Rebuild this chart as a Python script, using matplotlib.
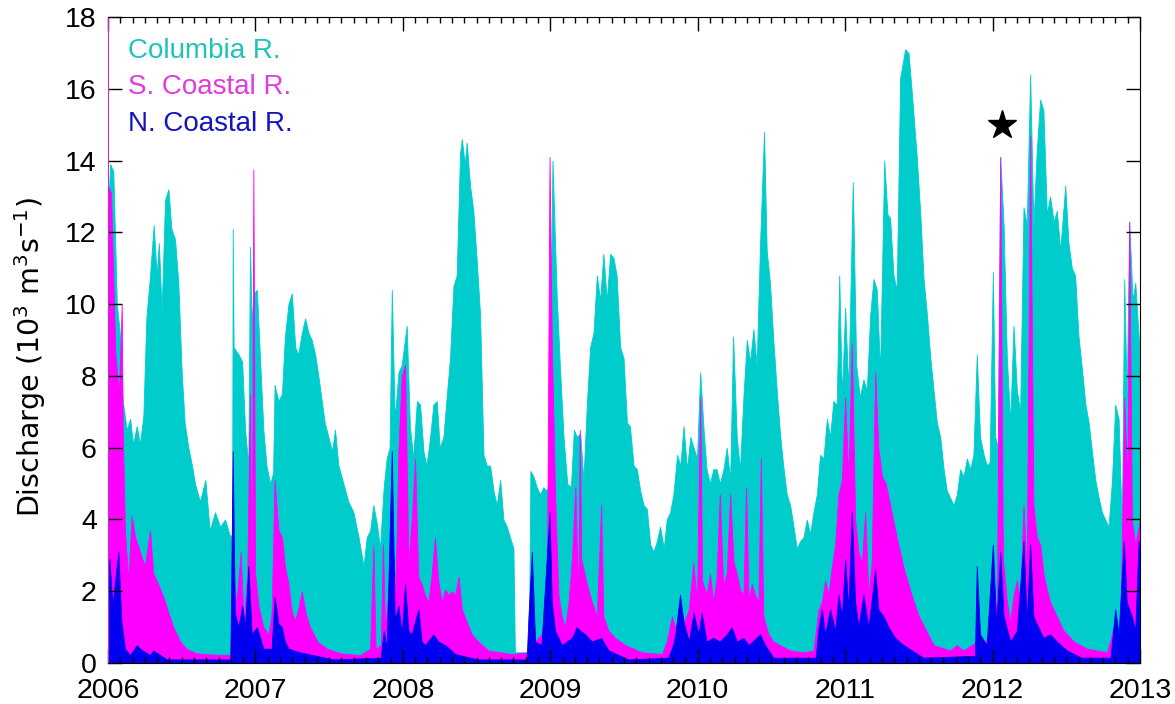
import matplotlib
matplotlib.use('Agg')
import matplotlib.pyplot as plt
from matplotlib.ticker import MultipleLocator

plt.rcParams['font.family'] = ['Liberation Sans', 'DejaVu Sans']

# daily discharge envelopes (decimal year, 10^3 m^3/s)
columbia_t = [2006.000, 2006.015, 2006.036, 2006.060, 2006.080, 2006.100, 2006.127, 2006.150, 2006.170, 2006.195,
              2006.217, 2006.240, 2006.260, 2006.285, 2006.310, 2006.330, 2006.345, 2006.364, 2006.387, 2006.410,
              2006.430, 2006.455, 2006.477, 2006.500, 2006.520, 2006.545, 2006.570, 2006.590, 2006.624, 2006.660,
              2006.690, 2006.726, 2006.760, 2006.794, 2006.830, 2006.842, 2006.846, 2006.852, 2006.885, 2006.910,
              2006.930, 2006.952, 2006.963, 2006.975, 2006.990, 2007.010, 2007.030, 2007.054, 2007.075, 2007.100,
              2007.120, 2007.130, 2007.156, 2007.180, 2007.200, 2007.224, 2007.247, 2007.270, 2007.290, 2007.315,
              2007.337, 2007.360, 2007.382, 2007.405, 2007.427, 2007.450, 2007.470, 2007.495, 2007.520, 2007.540,
              2007.563, 2007.597, 2007.630, 2007.665, 2007.700, 2007.733, 2007.755, 2007.778, 2007.800, 2007.823,
              2007.845, 2007.870, 2007.890, 2007.910, 2007.925, 2007.945, 2007.970, 2007.992, 2008.026, 2008.048,
              2008.070, 2008.095, 2008.117, 2008.140, 2008.160, 2008.185, 2008.207, 2008.230, 2008.250, 2008.275,
              2008.297, 2008.320, 2008.343, 2008.365, 2008.388, 2008.400, 2008.420, 2008.433, 2008.456, 2008.478,
              2008.500, 2008.524, 2008.547, 2008.570, 2008.592, 2008.615, 2008.637, 2008.660, 2008.682, 2008.705,
              2008.727, 2008.750, 2008.760, 2008.855, 2008.865, 2008.886, 2008.908, 2008.930, 2008.953, 2008.976,
              2008.990, 2009.015, 2009.044, 2009.065, 2009.090, 2009.115, 2009.140, 2009.160, 2009.180, 2009.203,
              2009.225, 2009.248, 2009.270, 2009.293, 2009.316, 2009.338, 2009.360, 2009.383, 2009.406, 2009.428,
              2009.450, 2009.474, 2009.497, 2009.520, 2009.540, 2009.565, 2009.587, 2009.610, 2009.633, 2009.655,
              2009.678, 2009.700, 2009.723, 2009.745, 2009.770, 2009.790, 2009.813, 2009.835, 2009.860, 2009.882,
              2009.904, 2009.927, 2009.950, 2009.972, 2009.995, 2010.017, 2010.040, 2010.060, 2010.083, 2010.106,
              2010.128, 2010.150, 2010.175, 2010.197, 2010.220, 2010.240, 2010.265, 2010.287, 2010.310, 2010.333,
              2010.355, 2010.378, 2010.400, 2010.423, 2010.450, 2010.468, 2010.490, 2010.513, 2010.536, 2010.558,
              2010.580, 2010.604, 2010.627, 2010.650, 2010.672, 2010.695, 2010.717, 2010.740, 2010.762, 2010.785,
              2010.808, 2010.830, 2010.853, 2010.876, 2010.898, 2010.920, 2010.943, 2010.960, 2010.978, 2011.000,
              2011.022, 2011.052, 2011.075, 2011.100, 2011.124, 2011.147, 2011.170, 2011.192, 2011.215, 2011.237,
              2011.265, 2011.287, 2011.305, 2011.328, 2011.350, 2011.373, 2011.407, 2011.430, 2011.452, 2011.486,
              2011.510, 2011.532, 2011.555, 2011.578, 2011.600, 2011.622, 2011.645, 2011.668, 2011.690, 2011.713,
              2011.735, 2011.758, 2011.780, 2011.803, 2011.826, 2011.848, 2011.870, 2011.893, 2011.915, 2011.940,
              2011.962, 2011.980, 2012.002, 2012.018, 2012.035, 2012.052, 2012.075, 2012.097, 2012.120, 2012.142,
              2012.165, 2012.187, 2012.210, 2012.232, 2012.255, 2012.277, 2012.300, 2012.323, 2012.345, 2012.368,
              2012.390, 2012.414, 2012.436, 2012.459, 2012.493, 2012.515, 2012.538, 2012.560, 2012.583, 2012.606,
              2012.630, 2012.652, 2012.674, 2012.697, 2012.720, 2012.742, 2012.764, 2012.787, 2012.810, 2012.832,
              2012.855, 2012.877, 2012.893, 2012.910, 2012.927, 2012.950, 2012.968, 2013.000]
columbia_v = [12.5, 13.9, 13.7, 10.0, 9.2, 7.3, 6.5, 6.8, 6.1, 6.6,
              6.1, 6.9, 9.6, 10.8, 12.2, 10.8, 11.7, 9.8, 12.9, 13.2,
              12.1, 11.8, 10.6, 8.1, 6.7, 6.0, 5.5, 5.0, 4.5, 5.1,
              3.7, 4.2, 3.8, 4.0, 3.5, 3.6, 12.1, 8.8, 8.6, 8.4,
              6.5, 5.5, 11.6, 9.5, 10.3, 10.4, 8.6, 6.5, 5.5, 5.0,
              5.3, 7.75, 7.3, 7.5, 9.1, 10.0, 10.3, 8.8, 8.6, 9.2,
              9.6, 9.2, 9.0, 8.6, 8.0, 7.3, 6.7, 6.3, 5.9, 6.5,
              5.5, 5.0, 4.5, 4.2, 3.5, 2.7, 3.5, 3.7, 4.4, 3.9,
              3.2, 4.9, 5.7, 6.0, 10.4, 6.8, 8.1, 8.3, 9.4, 6.6,
              5.7, 7.3, 7.2, 5.9, 5.5, 6.3, 7.2, 7.3, 6.0, 6.3,
              7.4, 8.5, 10.5, 10.8, 14.2, 14.6, 13.9, 14.5, 13.3, 12.6,
              11.3, 9.7, 5.8, 5.5, 5.5, 4.8, 4.4, 5.1, 4.0, 3.8,
              3.5, 3.2, 0.3, 0.3, 5.35, 5.2, 4.9, 4.7, 4.9, 4.8,
              5.0, 14.0, 10.2, 8.3, 6.3, 5.0, 4.9, 6.5, 6.3, 6.4,
              5.1, 7.2, 8.8, 9.2, 10.8, 10.1, 11.4, 10.1, 11.4, 11.3,
              10.8, 8.8, 8.5, 6.7, 6.6, 5.5, 5.4, 4.8, 4.4, 4.3,
              3.3, 3.1, 3.4, 3.8, 3.2, 4.0, 4.2, 4.7, 5.8, 5.5,
              6.6, 5.4, 6.3, 6.0, 5.7, 8.1, 6.5, 5.4, 5.0, 5.4,
              5.4, 5.0, 5.4, 6.0, 5.1, 9.1, 6.3, 5.4, 7.4, 9.0,
              8.4, 9.3, 8.3, 11.7, 14.8, 11.5, 10.6, 9.0, 7.6, 6.4,
              5.5, 4.7, 4.4, 3.8, 3.2, 3.4, 3.5, 4.0, 3.6, 4.2,
              4.7, 5.8, 5.7, 6.8, 6.3, 7.3, 7.2, 10.8, 7.4, 9.9,
              7.6, 13.4, 8.3, 7.4, 7.9, 7.6, 9.7, 10.7, 10.4, 8.1,
              14.0, 12.5, 12.4, 10.8, 10.4, 16.3, 17.1, 17.0, 15.9, 14.1,
              12.5, 10.7, 9.7, 8.5, 7.6, 6.7, 6.3, 5.4, 4.8, 4.6,
              4.4, 4.7, 5.4, 5.2, 5.7, 5.4, 5.8, 8.6, 6.3, 5.8,
              5.5, 5.6, 10.9, 6.3, 6.0, 14.1, 12.2, 8.5, 6.7, 9.4,
              7.6, 7.0, 12.7, 12.2, 16.4, 12.2, 14.3, 15.7, 15.4, 12.5,
              13.0, 12.3, 12.6, 11.5, 13.3, 11.7, 11.0, 10.8, 9.1, 8.2,
              7.2, 6.7, 5.9, 5.1, 4.6, 4.2, 4.0, 3.8, 5.1, 7.2,
              6.8, 3.8, 10.7, 7.4, 12.3, 10.1, 10.6, 8.5]

s_coastal_t = [2006.000, 2006.020, 2006.050, 2006.075, 2006.093, 2006.100, 2006.115, 2006.138, 2006.160, 2006.185,
               2006.217, 2006.250, 2006.285, 2006.307, 2006.340, 2006.375, 2006.410, 2006.443, 2006.490, 2006.530,
               2006.600, 2006.700, 2006.830, 2006.846, 2006.870, 2006.900, 2006.920, 2006.945, 2006.963, 2006.975,
               2006.986, 2006.998, 2007.020, 2007.054, 2007.090, 2007.110, 2007.130, 2007.156, 2007.180, 2007.200,
               2007.224, 2007.247, 2007.270, 2007.290, 2007.315, 2007.340, 2007.370, 2007.420, 2007.484, 2007.580,
               2007.710, 2007.778, 2007.800, 2007.815, 2007.850, 2007.865, 2007.880, 2007.930, 2007.950, 2007.970,
               2007.992, 2008.015, 2008.038, 2008.060, 2008.083, 2008.105, 2008.128, 2008.150, 2008.173, 2008.196,
               2008.218, 2008.240, 2008.264, 2008.287, 2008.310, 2008.333, 2008.355, 2008.378, 2008.400, 2008.433,
               2008.467, 2008.512, 2008.580, 2008.740, 2008.860, 2008.875, 2008.897, 2008.940, 2008.976, 2008.995,
               2009.010, 2009.033, 2009.055, 2009.078, 2009.100, 2009.124, 2009.147, 2009.170, 2009.190, 2009.200,
               2009.210, 2009.248, 2009.282, 2009.316, 2009.345, 2009.360, 2009.395, 2009.440, 2009.508, 2009.620,
               2009.757, 2009.790, 2009.825, 2009.860, 2009.895, 2009.940, 2009.970, 2009.995, 2010.017, 2010.030,
               2010.060, 2010.083, 2010.106, 2010.128, 2010.150, 2010.172, 2010.197, 2010.220, 2010.243, 2010.265,
               2010.287, 2010.310, 2010.328, 2010.345, 2010.367, 2010.390, 2010.412, 2010.428, 2010.445, 2010.480,
               2010.513, 2010.558, 2010.627, 2010.717, 2010.785, 2010.820, 2010.842, 2010.864, 2010.887, 2010.910,
               2010.932, 2010.955, 2010.978, 2011.000, 2011.022, 2011.045, 2011.068, 2011.090, 2011.113, 2011.136,
               2011.158, 2011.180, 2011.204, 2011.225, 2011.250, 2011.275, 2011.300, 2011.350, 2011.400, 2011.450,
               2011.500, 2011.550, 2011.600, 2011.713, 2011.757, 2011.803, 2011.893, 2011.940, 2012.002, 2012.030,
               2012.052, 2012.070, 2012.097, 2012.120, 2012.142, 2012.165, 2012.187, 2012.210, 2012.232, 2012.255,
               2012.277, 2012.300, 2012.323, 2012.345, 2012.368, 2012.390, 2012.436, 2012.482, 2012.550, 2012.640,
               2012.776, 2012.798, 2012.820, 2012.866, 2012.893, 2012.915, 2012.927, 2012.945, 2012.968, 2013.000]
s_coastal_v = [13.3, 13.1, 8.6, 7.5, 10.0, 6.5, 3.7, 2.3, 4.1, 3.5,
               3.1, 2.7, 3.7, 2.5, 2.2, 1.85, 1.4, 1.0, 0.6, 0.4,
               0.27, 0.24, 0.22, 2.7, 1.6, 3.1, 1.1, 2.5, 7.5, 1.4,
               13.75, 2.5, 1.6, 1.0, 0.8, 1.4, 5.1, 3.7, 3.5, 2.7,
               2.2, 1.4, 1.2, 1.5, 2.0, 1.4, 1.0, 0.6, 0.4, 0.27,
               0.22, 0.4, 3.3, 0.4, 0.5, 3.3, 0.9, 3.4, 2.0, 5.9,
               8.0, 8.3, 2.8, 4.0, 5.7, 2.4, 2.2, 1.9, 1.7, 2.5,
               3.5, 2.3, 1.7, 2.05, 1.9, 2.0, 1.9, 2.4, 1.5, 1.15,
               0.8, 0.6, 0.35, 0.25, 0.3, 1.15, 0.6, 0.8, 1.15, 14.1,
               9.0, 4.6, 1.9, 1.3, 1.0, 1.7, 2.9, 4.9, 1.7, 6.5,
               2.9, 2.2, 1.7, 1.3, 4.4, 1.3, 0.9, 0.7, 0.5, 0.3,
               0.25, 0.6, 1.3, 0.8, 1.0, 1.5, 2.8, 1.7, 7.4, 2.3,
               1.9, 2.5, 1.7, 2.4, 4.7, 2.2, 2.5, 4.7, 2.8, 2.5,
               2.05, 1.9, 4.9, 1.8, 2.2, 1.9, 1.7, 5.7, 1.3, 0.8,
               0.6, 0.5, 0.35, 0.3, 0.35, 1.5, 1.7, 2.3, 1.9, 2.7,
               3.3, 4.7, 5.1, 7.4, 5.1, 8.9, 4.0, 3.1, 2.8, 4.2,
               1.9, 2.8, 8.1, 6.0, 5.2, 5.0, 4.5, 3.5, 2.6, 1.9,
               1.3, 0.9, 0.5, 0.35, 0.5, 0.35, 0.6, 0.45, 1.15, 1.7,
               14.1, 2.9, 1.7, 1.15, 1.9, 2.3, 1.7, 4.4, 2.5, 14.7,
               4.4, 3.5, 3.3, 2.5, 2.05, 1.7, 1.3, 0.9, 0.6, 0.4,
               0.3, 0.6, 1.0, 0.7, 7.4, 5.0, 12.3, 4.0, 3.3, 4.0]

n_coastal_t = [2006.000, 2006.010, 2006.030, 2006.070, 2006.090, 2006.115, 2006.150, 2006.195, 2006.217, 2006.285,
               2006.307, 2006.400, 2006.830, 2006.846, 2006.860, 2006.885, 2006.910, 2006.930, 2006.952, 2006.975,
               2007.010, 2007.054, 2007.110, 2007.130, 2007.156, 2007.180, 2007.200, 2007.224, 2007.300, 2007.530,
               2007.850, 2007.870, 2007.890, 2007.925, 2007.945, 2007.970, 2007.992, 2008.015, 2008.038, 2008.060,
               2008.105, 2008.128, 2008.150, 2008.207, 2008.240, 2008.287, 2008.355, 2008.510, 2008.840, 2008.852,
               2008.875, 2008.897, 2008.940, 2008.995, 2009.010, 2009.033, 2009.078, 2009.147, 2009.180, 2009.203,
               2009.237, 2009.282, 2009.345, 2009.395, 2009.530, 2009.800, 2009.833, 2009.848, 2009.880, 2009.904,
               2009.940, 2009.972, 2010.005, 2010.027, 2010.060, 2010.106, 2010.150, 2010.197, 2010.230, 2010.265,
               2010.310, 2010.345, 2010.423, 2010.457, 2010.513, 2010.800, 2010.820, 2010.842, 2010.864, 2010.898,
               2010.932, 2010.955, 2010.978, 2011.000, 2011.022, 2011.045, 2011.068, 2011.090, 2011.124, 2011.158,
               2011.204, 2011.225, 2011.260, 2011.294, 2011.339, 2011.396, 2011.530, 2011.880, 2011.893, 2011.915,
               2011.960, 2012.002, 2012.025, 2012.052, 2012.075, 2012.120, 2012.165, 2012.210, 2012.232, 2012.255,
               2012.277, 2012.310, 2012.345, 2012.390, 2012.436, 2012.505, 2012.600, 2012.800, 2012.832, 2012.855,
               2012.890, 2012.910, 2012.945, 2012.968, 2012.990, 2013.000]
n_coastal_v = [2.0, 2.9, 1.6, 3.1, 1.2, 0.4, 0.22, 0.5, 0.4, 0.22,
               0.35, 0.1, 0.1, 5.9, 1.4, 1.0, 1.6, 1.0, 2.7, 0.8,
               1.0, 0.4, 0.4, 1.85, 1.1, 1.0, 0.6, 0.4, 0.3, 0.1,
               0.15, 0.9, 0.4, 5.9, 1.2, 1.6, 0.8, 2.2, 0.9, 0.8,
               1.5, 0.6, 0.5, 0.8, 0.6, 0.5, 0.25, 0.1, 0.1, 1.3,
               3.1, 0.6, 0.5, 4.2, 1.7, 0.9, 0.5, 0.7, 1.0, 0.9,
               0.8, 0.6, 0.7, 0.35, 0.1, 0.15, 0.5, 0.8, 1.9, 1.15,
               0.6, 1.4, 0.8, 1.4, 0.6, 0.7, 0.6, 0.8, 1.0, 0.6,
               0.7, 0.5, 0.8, 0.5, 0.15, 0.15, 1.0, 1.5, 0.8, 1.5,
               0.9, 1.9, 1.3, 2.9, 1.5, 4.2, 1.7, 1.0, 1.9, 1.0,
               2.6, 1.5, 1.3, 1.0, 0.7, 0.5, 0.15, 0.2, 2.7, 0.8,
               0.5, 3.3, 1.0, 3.1, 1.3, 0.6, 0.9, 3.4, 1.15, 3.3,
               1.3, 1.0, 0.7, 0.8, 0.6, 0.35, 0.15, 0.15, 1.5, 0.8,
               3.4, 1.7, 1.3, 0.9, 3.4, 1.9]

star_t = [2012.065]
star_v = [15.0]

names = ['Columbia R.', 'S. Coastal R.', 'N. Coastal R.']
fill_colors = ['#00CCCC', '#FF00FF', '#0000F0']
text_colors = ['#1FC4B8', '#E03CE0', '#1515C0']
years = list(range(2006, 2014))

fig = plt.figure(figsize=(11.75, 7.04), dpi=100)
ax = fig.add_axes([0.0919, 0.0582, 0.8783, 0.9177])

series = [(columbia_t, columbia_v), (s_coastal_t, s_coastal_v), (n_coastal_t, n_coastal_v)]
for (t, v), c in zip(series, fill_colors):
    ax.fill_between(t, 0, v, color=c, lw=0.6, edgecolor=c)

ax.plot(star_t, star_v, marker='*', color='k', ms=21, ls='none')

for i, (name, c) in enumerate(zip(names, text_colors)):
    ax.text(0.019, 0.936 - i * 0.056, name, color=c, fontsize=20, transform=ax.transAxes)

ax.set_xlim(2006, 2013)
ax.set_ylim(0, 18)
ax.set_xticks(years)
ax.set_xticklabels([str(y) for y in years])
ax.xaxis.set_minor_locator(MultipleLocator(1 / 12))
ax.set_yticks(range(0, 19, 2))
ax.tick_params(which='major', direction='in', length=10, width=1, top=True, right=True,
               labelsize=20.5)
ax.tick_params(axis='x', which='major', pad=11)
ax.tick_params(axis='y', which='major', pad=8)
ax.tick_params(which='minor', direction='in', length=4.5, width=1, top=True, bottom=True)
ax.tick_params(axis='y', which='minor', left=False, right=False)
ax.spines['left'].set_color('#C030C8')

ax.set_ylabel('Discharge (10$^3$ m$^3$s$^{-1}$)', fontsize=20.5, family='DejaVu Sans')
ax.yaxis.set_label_coords(-0.058, 0.474)

fig.savefig('out.png', dpi=100)
